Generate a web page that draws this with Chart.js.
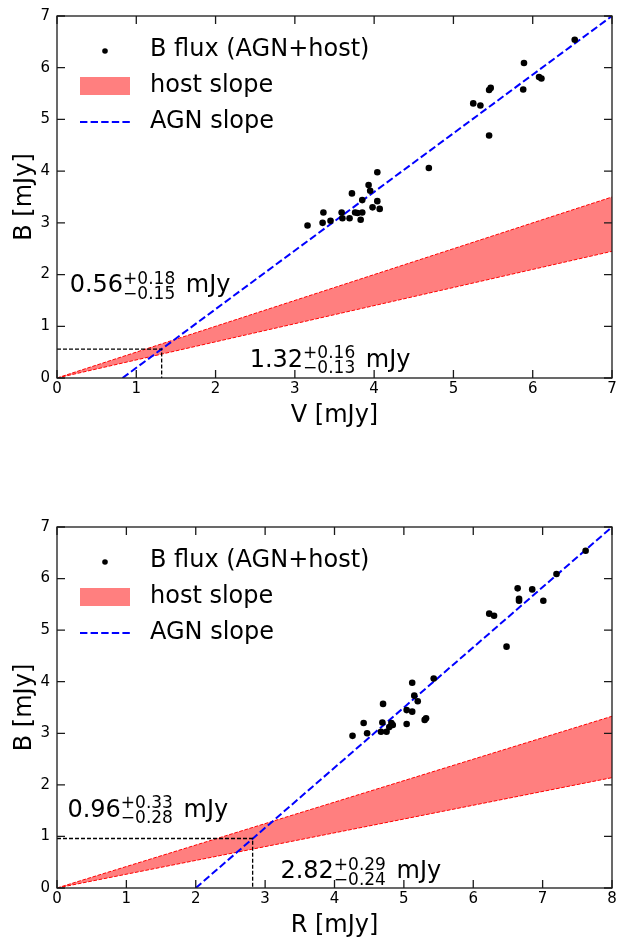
<!DOCTYPE html>
<html>
<head>
<meta charset="utf-8">
<script src="https://cdn.jsdelivr.net/npm/chart.js@4.4.1/dist/chart.umd.min.js"></script>
<style>
  html, body { margin: 0; padding: 0; background: #fff; }
  canvas { display: block; }
</style>
</head>
<body>
<canvas id="chartV" width="619" height="470"></canvas>
<canvas id="chartR" width="619" height="470"></canvas>
<script>
// ---- top panel: B vs V ----
const vFlux = [6.53, 5.89, 6.08, 6.11, 5.88, 5.47, 5.45, 5.25, 5.34, 5.45, 4.69, 4.04, 3.93, 3.95, 3.72,
  3.85, 4.04, 3.98, 4.07, 3.59, 3.76, 3.79, 3.85, 3.36, 3.60, 3.69, 3.83, 3.45, 3.35, 3.16];
const bFluxV = [6.54, 6.09, 5.82, 5.79, 5.58, 5.61, 5.57, 5.31, 5.27, 4.69, 4.06, 3.98, 3.73, 3.62, 3.57,
  3.44, 3.42, 3.30, 3.27, 3.20, 3.20, 3.19, 3.20, 3.20, 3.09, 3.09, 3.06, 3.04, 3.00, 2.95];
const hostXV = [0, 7];
const hostLowV = [0, 2.45];
const hostHighV = [0, 3.50];
const agnXV = [0.826, 7];
const agnYV = [0, 7];
const guideXV = [0, 1.32, 1.32];
const guideYV = [0.56, 0.56, 0];
const hostNoteV = ['0.56', '+0.18', '\u22120.15'];
const agnNoteV = ['1.32', '+0.16', '\u22120.13'];
const ticksV = [0, 1, 2, 3, 4, 5, 6, 7];

// ---- bottom panel: B vs R ----
const rFlux = [7.62, 7.20, 6.64, 6.85, 6.66, 6.66, 7.01, 6.23, 6.30, 6.48, 5.43, 5.12, 5.15, 5.20, 4.70,
  5.04, 5.12, 5.32, 5.30, 5.04, 4.42, 4.69, 4.82, 4.84, 4.79, 4.67, 4.75, 4.47, 4.26];
const bFluxR = [6.54, 6.09, 5.81, 5.79, 5.61, 5.57, 5.57, 5.32, 5.28, 4.68, 4.06, 3.98, 3.73, 3.62, 3.57,
  3.45, 3.42, 3.29, 3.26, 3.18, 3.20, 3.21, 3.20, 3.16, 3.12, 3.03, 3.03, 3.00, 2.95];
const hostXR = [0, 8];
const hostLowR = [0, 2.14];
const hostHighR = [0, 3.33];
const agnXR = [2.0, 8];
const agnYR = [0, 7];
const guideXR = [0, 2.82, 2.82];
const guideYR = [0.96, 0.96, 0];
const hostNoteR = ['0.96', '+0.33', '\u22120.28'];
const agnNoteR = ['2.82', '+0.29', '\u22120.24'];
const ticksR = [0, 1, 2, 3, 4, 5, 6, 7, 8];

const yTicks = [0, 1, 2, 3, 4, 5, 6, 7];
const FONT = '"DejaVu Sans", sans-serif';

const pairs = (xs, ys) => xs.map((x, i) => ({ x, y: ys[i] }));

/**
 * frame + inward ticks on all four sides (matplotlib look)
 */
const framePlugin = {
  id: 'frame',
  afterDraw(chart) {
    const { ctx, chartArea: a, scales } = chart;
    const len = 8;
    ctx.save();
    ctx.strokeStyle = '#1a1a1a';
    ctx.lineWidth = 1.3;
    ctx.strokeRect(a.left, a.top, a.right - a.left, a.bottom - a.top);
    ctx.beginPath();
    scales.x.ticks.forEach(t => {
      const px = scales.x.getPixelForValue(t.value);
      ctx.moveTo(px, a.bottom); ctx.lineTo(px, a.bottom - len);
      ctx.moveTo(px, a.top); ctx.lineTo(px, a.top + len);
    });
    scales.y.ticks.forEach(t => {
      const py = scales.y.getPixelForValue(t.value);
      ctx.moveTo(a.left, py); ctx.lineTo(a.left + len, py);
      ctx.moveTo(a.right, py); ctx.lineTo(a.right - len, py);
    });
    ctx.stroke();
    ctx.restore();
  },
};

/**
 * value with asymmetric errors: 0.56^{+0.18}_{-0.15} mJy
 */
function drawFluxNote(ctx, x, y, note) {
  const [val, up, down] = note;
  ctx.fillStyle = '#000';
  ctx.textAlign = 'left';
  ctx.textBaseline = 'alphabetic';
  ctx.font = `24px ${FONT}`;
  ctx.fillText(val, x, y);
  const sx = x + ctx.measureText(val).width;
  ctx.font = `17px ${FONT}`;
  ctx.fillText(up, sx, y - 8.5);
  ctx.fillText(down, sx, y + 6.5);
  const sw = Math.max(ctx.measureText(up).width, ctx.measureText(down).width);
  ctx.font = `24px ${FONT}`;
  ctx.fillText(' mJy', sx + sw + 3, y);
}

/**
 * legend inside the plot + the two flux labels
 */
const notesPlugin = {
  id: 'notes',
  afterDraw(chart, args, opts) {
    const { ctx, chartArea: a, scales } = chart;
    ctx.save();
    // legend
    ctx.fillStyle = '#000';
    ctx.beginPath();
    ctx.arc(a.left + 48, a.top + 35, 2.8, 0, Math.PI * 2);
    ctx.fill();
    ctx.fillStyle = 'rgba(255,0,0,0.5)';
    ctx.fillRect(a.left + 23, a.top + 61, 50, 18);
    ctx.strokeStyle = '#0000ff';
    ctx.lineWidth = 2;
    ctx.setLineDash([7.4, 3.2]);
    ctx.beginPath();
    ctx.moveTo(a.left + 23, a.top + 106);
    ctx.lineTo(a.left + 73, a.top + 106);
    ctx.stroke();
    ctx.setLineDash([]);
    ctx.fillStyle = '#000';
    ctx.font = `24px ${FONT}`;
    ctx.textBaseline = 'middle';
    ctx.fillText('B flux (AGN+host)', a.left + 93, a.top + 34);
    ctx.fillText('host slope', a.left + 93, a.top + 70);
    ctx.fillText('AGN slope', a.left + 93, a.top + 106);

    // flux labels, anchored in data units
    opts.notes.forEach(n => {
      drawFluxNote(ctx, scales.x.getPixelForValue(n.at[0]), scales.y.getPixelForValue(n.at[1]), n.text);
    });
    ctx.restore();
  },
};

function renderFluxChart(canvasId, p) {
  const canvas = document.getElementById(canvasId);
  return new Chart(canvas, {
    type: 'scatter',
    data: {
      datasets: [
        {
          label: 'B flux (AGN+host)',
          data: pairs(p.xFlux, p.bFlux),
          backgroundColor: '#000',
          borderWidth: 0,
          pointRadius: 3.3,
        },
        {
          label: 'guide',
          data: pairs(p.guideX, p.guideY),
          showLine: true,
          borderColor: '#000',
          borderWidth: 1.3,
          borderDash: [4, 2],
          pointRadius: 0,
          tension: 0,
        },
        {
          label: 'AGN slope',
          data: pairs(p.agnX, p.agnY),
          showLine: true,
          borderColor: '#0000ff',
          borderWidth: 2,
          borderDash: [7.4, 3.2],
          pointRadius: 0,
          tension: 0,
        },
        {
          label: 'host low',
          data: pairs(p.hostX, p.hostLow),
          showLine: true,
          borderColor: '#ff0000',
          borderWidth: 1,
          borderDash: [3.7, 1.6],
          pointRadius: 0,
          tension: 0,
        },
        {
          label: 'host slope',
          data: pairs(p.hostX, p.hostHigh),
          showLine: true,
          borderColor: '#ff0000',
          borderWidth: 1,
          borderDash: [3.7, 1.6],
          backgroundColor: 'rgba(255,0,0,0.5)',
          fill: '-1',
          pointRadius: 0,
          tension: 0,
        },
      ],
    },
    options: {
      responsive: false,
      animation: false,
      devicePixelRatio: 1,
      layout: { padding: p.padding },
      plugins: {
        legend: { display: false },
        tooltip: { enabled: false },
        notes: { notes: p.notes },
      },
      scales: {
        x: {
          type: 'linear',
          min: 0,
          max: p.xTicks[p.xTicks.length - 1],
          afterBuildTicks: s => { s.ticks = p.xTicks.map(v => ({ value: v })); },
          afterFit: s => { s.height = 52; },
          grid: { display: false, drawTicks: false },
          border: { display: false },
          ticks: { color: '#000', font: { family: FONT, size: 15 }, padding: 2 },
          title: { display: true, text: p.xTitle, color: '#000', font: { family: FONT, size: 24 }, padding: 0 },
        },
        y: {
          type: 'linear',
          min: 0,
          max: 7,
          afterBuildTicks: s => { s.ticks = yTicks.map(v => ({ value: v })); },
          afterFit: s => { s.width = 47; },
          grid: { display: false, drawTicks: false },
          border: { display: false },
          ticks: { color: '#000', font: { family: FONT, size: 15 }, padding: 7 },
          title: { display: true, text: 'B [mJy]', color: '#000', font: { family: FONT, size: 24 }, padding: 0 },
        },
      },
    },
    plugins: [framePlugin, notesPlugin],
  });
}

renderFluxChart('chartV', {
  xFlux: vFlux, bFlux: bFluxV,
  hostX: hostXV, hostLow: hostLowV, hostHigh: hostHighV,
  agnX: agnXV, agnY: agnYV,
  guideX: guideXV, guideY: guideYV,
  xTicks: ticksV, xTitle: 'V [mJy]',
  padding: { left: 10, right: 7, top: 16, bottom: 40 },
  notes: [
    { text: hostNoteV, at: [0.16, 1.66] },
    { text: agnNoteV, at: [2.43, 0.22] },
  ],
});

renderFluxChart('chartR', {
  xFlux: rFlux, bFlux: bFluxR,
  hostX: hostXR, hostLow: hostLowR, hostHigh: hostHighR,
  agnX: agnXR, agnY: agnYR,
  guideX: guideXR, guideY: guideYR,
  xTicks: ticksR, xTitle: 'R [mJy]',
  padding: { left: 10, right: 7, top: 57, bottom: 0 },
  notes: [
    { text: hostNoteR, at: [0.15, 1.38] },
    { text: agnNoteR, at: [3.22, 0.19] },
  ],
});
</script>
</body>
</html>
